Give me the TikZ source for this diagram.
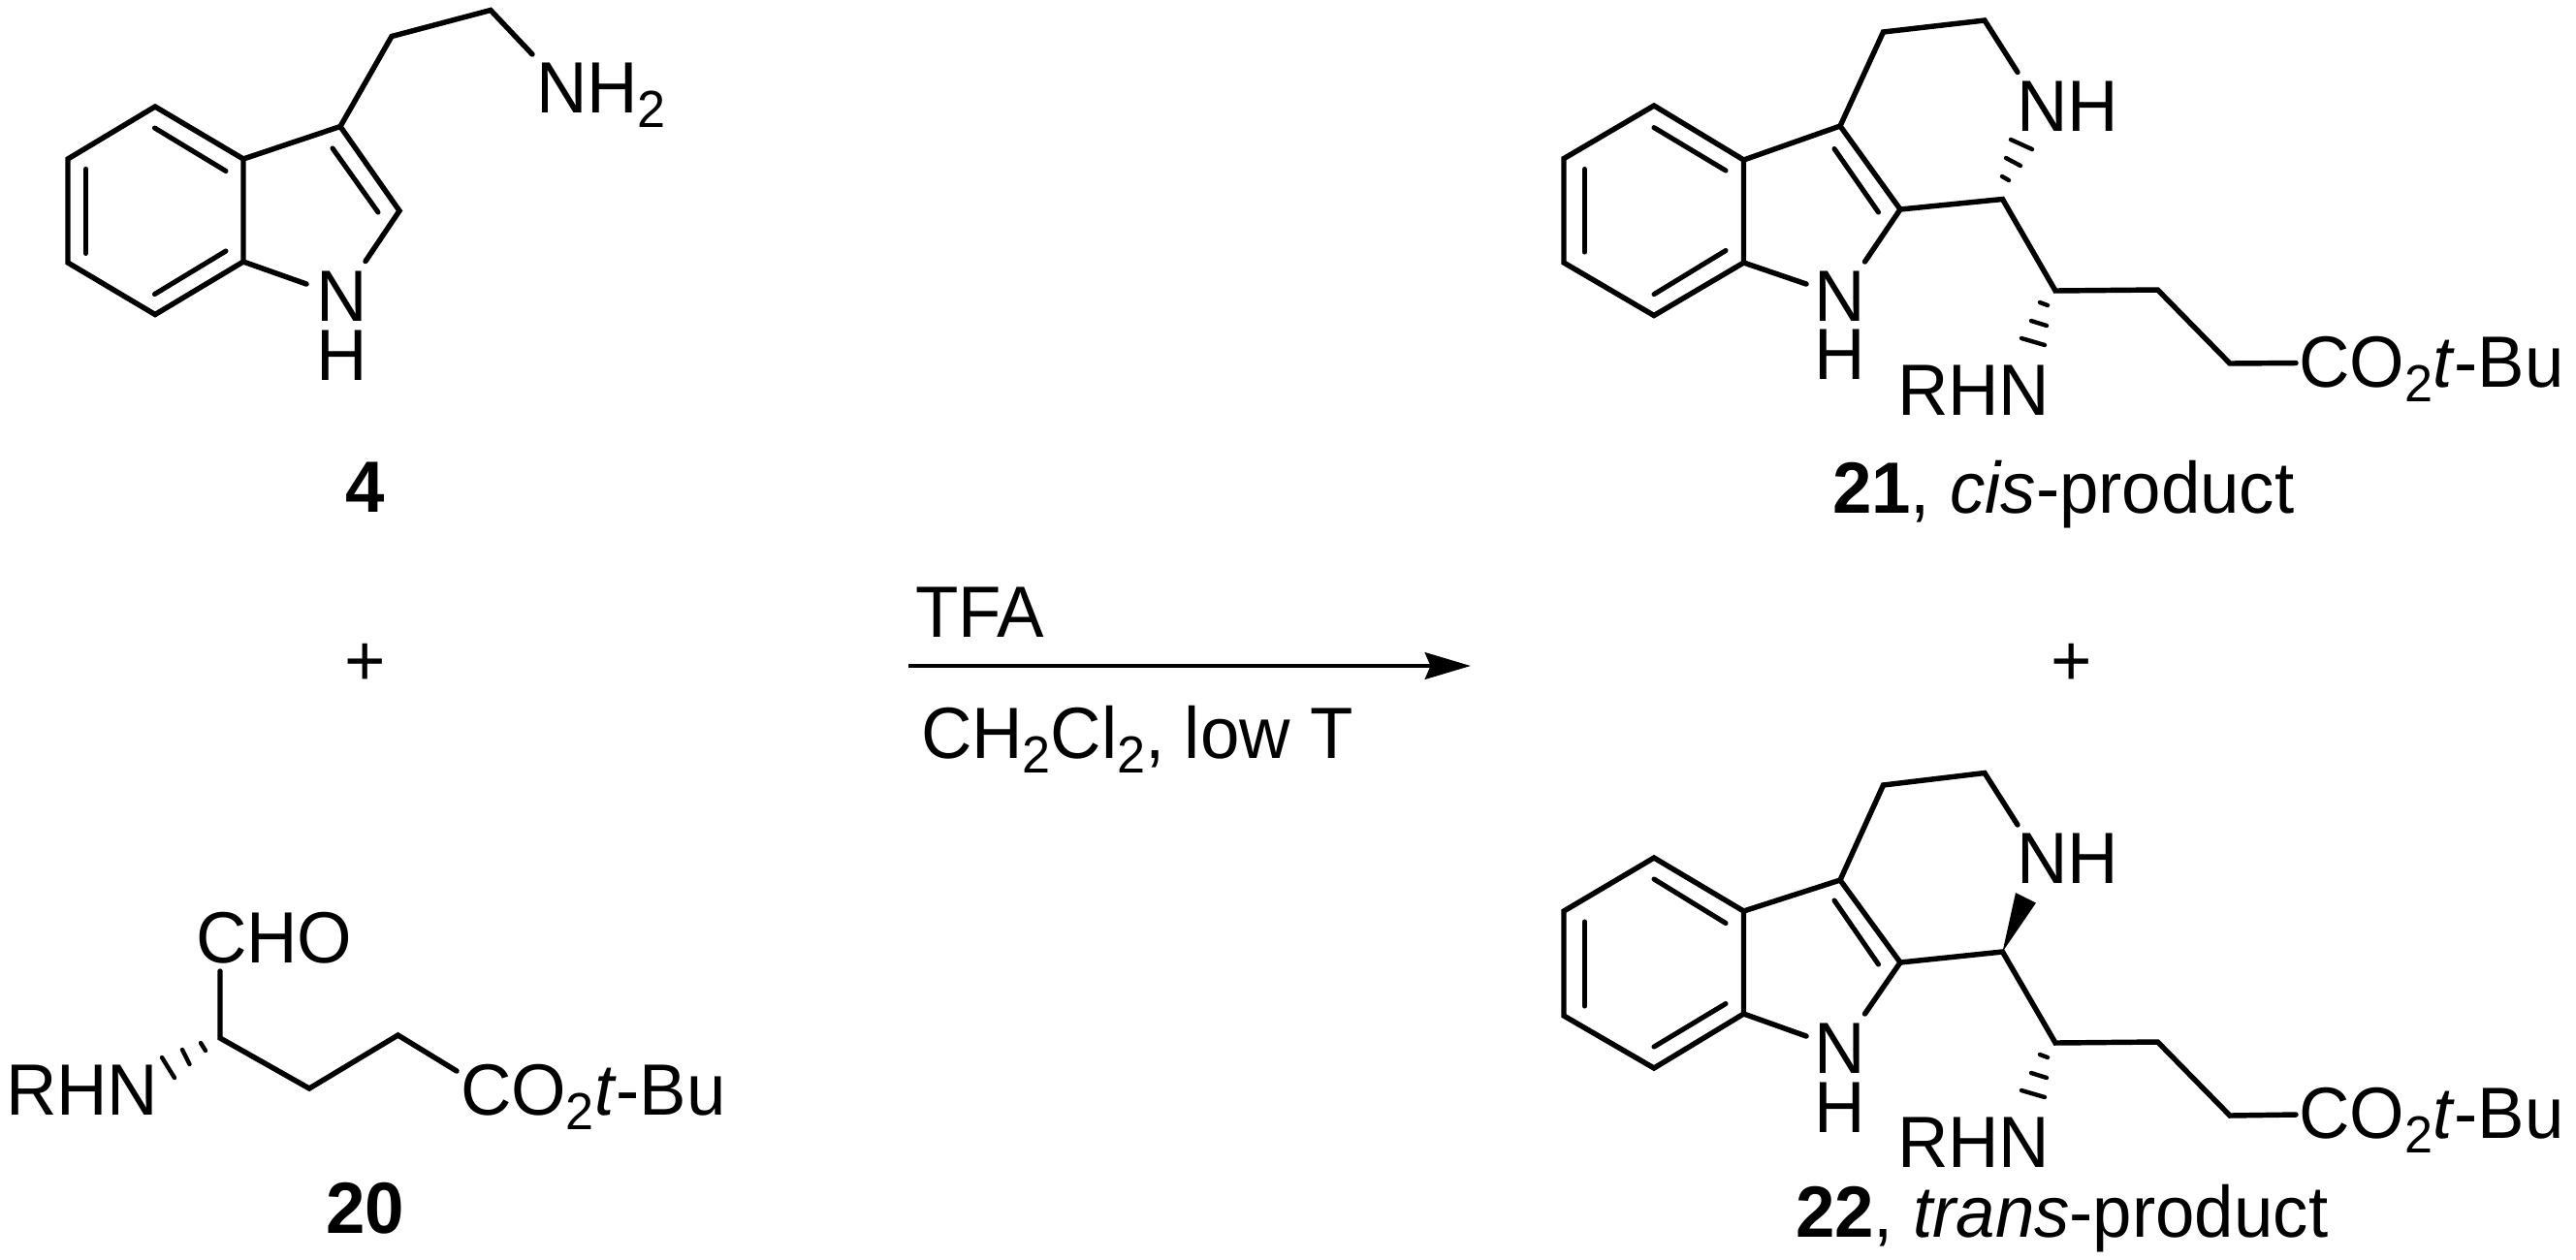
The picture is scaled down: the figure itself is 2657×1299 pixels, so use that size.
\documentclass[tikz,border=0pt]{standalone}
\usepackage{fontspec}
\setmainfont[FakeStretch=0.97]{Liberation Sans}
\usetikzlibrary{arrows.meta}
\newcommand{\subtwo}{\raisebox{-4.3pt}{\fontsize{15.3}{15.3}\selectfont 2}}
\tikzset{
  lab/.style={inner sep=0pt,outer sep=0pt,anchor=base west,font=\fontsize{21.3}{24}\selectfont},
  cen/.style={inner sep=0pt,outer sep=0pt,anchor=base,font=\fontsize{21.3}{24}\selectfont},
  bond/.style={line width=1.55pt,line cap=round,line join=miter,miter limit=4},
  inner/.style={line width=1.45pt,line cap=round},
  hash/.style={line width=1.25pt,line cap=round},
  rxn/.style={line width=1.4pt,-{Stealth[length=13.4pt,width=7.8pt,inset=1.6pt]}}
}
\begin{document}
\begin{tikzpicture}[x=0.01cm,y=-0.01cm]
\useasboundingbox (0,0) rectangle (2657,1299);
% --- compound 4
\coordinate (a1) at (160,110);
\coordinate (a2) at (70,164);
\coordinate (a3) at (70,271);
\coordinate (a4) at (160,324.5);
\coordinate (a5) at (251,270);
\coordinate (a6) at (251,164);
\coordinate (a7) at (351,130.5);
\coordinate (a8) at (412,217.5);
\coordinate (a9) at (377,269.5);
\coordinate (a10) at (316,293);
\coordinate (a11) at (404,37.5);
\coordinate (a12) at (506,10.5);
\coordinate (a13) at (549,56);
\coordinate (ai1) at (159.5,132); \coordinate (ai2) at (233,176.5);
\coordinate (ai3) at (88.5,174.4); \coordinate (ai4) at (88.5,261.4);
\coordinate (ai5) at (159.5,303.5); \coordinate (ai6) at (233,259);
\coordinate (ai7) at (343,153); \coordinate (ai8) at (390,219);
\draw[bond] (a5) -- (a4) -- (a3) -- (a2) -- (a1) -- (a6) -- cycle;
\draw[bond] (a10) -- (a5);
\draw[bond] (a6) -- (a7) -- (a8) -- (a9);
\draw[bond] (a7) -- (a11) -- (a12) -- (a13);
\draw[inner] (ai1) -- (ai2);
\draw[inner] (ai3) -- (ai4);
\draw[inner] (ai5) -- (ai6);
\draw[inner] (ai7) -- (ai8);
\node[lab] (nh2) at (553,116) {NH\subtwo};
\node[lab] (n4) at (326,331.6) {N};
\node[lab] (h4) at (326,392) {H};
\node[cen] (l4) at (377,528) {\textbf{4}};
\node[cen] (plusl) at (377,707) {+};
% --- compound 20
\coordinate (b1) at (227,1071);
\coordinate (b2) at (227,1002);
\coordinate (b3) at (319,1123);
\coordinate (b4) at (410.5,1068);
\coordinate (b5) at (471,1105);
\draw[bond] (b2) -- (b1) -- (b3) -- (b4) -- (b5);
\coordinate (bh1) at (207,1076); \coordinate (bh2) at (212,1084);
\coordinate (bh3) at (188,1083); \coordinate (bh4) at (195.5,1098);
\coordinate (bh5) at (167,1091); \coordinate (bh6) at (180,1112);
\draw[hash] (bh1) -- (bh2);
\draw[hash] (bh3) -- (bh4);
\draw[hash] (bh5) -- (bh6);
\node[lab] (cho) at (202,993) {CHO};
\node[lab] (rhn20) at (6,1150) {RHN};
\node[lab] (co20) at (475,1150) {CO\subtwo\textit{t}-Bu};
\node[cen] (l20) at (377,1272) {\textbf{20}};
% --- arrow
\coordinate (r1) at (937,687);
\coordinate (r2) at (1517,687);
\draw[rxn] (r1) -- (r2);
\node[lab] (tfa) at (944,657) {TFA};
\node[lab] (cond) at (950,782) {CH\subtwo Cl\subtwo, low T};
% --- compound 21
\coordinate (c1) at (1706,109);
\coordinate (c2) at (1613,163.6);
\coordinate (c3) at (1613,271);
\coordinate (c4) at (1706,325.5);
\coordinate (c5) at (1798.5,271);
\coordinate (c6) at (1798.5,165);
\coordinate (c7) at (1898,130);
\coordinate (c8) at (1960,216);
\coordinate (c9) at (1923.5,270);
\coordinate (c10) at (1863,293);
\coordinate (c11) at (1942.5,33);
\coordinate (c12) at (2047,21);
\coordinate (c13) at (2081,74.5);
\coordinate (c14) at (2065.5,205.5);
\coordinate (c15) at (2120,300);
\coordinate (c16) at (2225.5,299);
\coordinate (c17) at (2300,375);
\coordinate (c18) at (2368,374.5);
\coordinate (ci1) at (1706,131.6); \coordinate (ci2) at (1780,176);
\coordinate (ci3) at (1634.5,174.5); \coordinate (ci4) at (1634.5,260);
\coordinate (ci5) at (1706,303.6); \coordinate (ci6) at (1780,258.5);
\coordinate (ci7) at (1892,153.5); \coordinate (ci8) at (1937.5,219);
\draw[bond] (c5) -- (c4) -- (c3) -- (c2) -- (c1) -- (c6) -- cycle;
\draw[bond] (c10) -- (c5);
\draw[bond] (c6) -- (c7) -- (c8) -- (c9);
\draw[bond] (c7) -- (c11) -- (c12) -- (c13);
\draw[bond] (c8) -- (c14) -- (c15) -- (c16) -- (c17) -- (c18);
\draw[inner] (ci1) -- (ci2);
\draw[inner] (ci3) -- (ci4);
\draw[inner] (ci5) -- (ci6);
\draw[inner] (ci7) -- (ci8);
\coordinate (ch1) at (2074,144); \coordinate (ch2) at (2096,154);
\coordinate (ch3) at (2069,163); \coordinate (ch4) at (2084,171);
\coordinate (ch5) at (2065,182); \coordinate (ch6) at (2072,186);
\coordinate (ch7) at (2104,312); \coordinate (ch8) at (2112,315);
\coordinate (ch9) at (2095,331); \coordinate (ch10) at (2111,336);
\coordinate (ch11) at (2085,349); \coordinate (ch12) at (2109,356);
\draw[hash] (ch1) -- (ch2);
\draw[hash] (ch3) -- (ch4);
\draw[hash] (ch5) -- (ch6);
\draw[hash] (ch7) -- (ch8);
\draw[hash] (ch9) -- (ch10);
\draw[hash] (ch11) -- (ch12);
\node[lab] (nh21) at (2080,135) {NH};
\node[lab] (n21) at (1871,331.6) {N};
\node[lab] (h21) at (1871,391) {H};
\node[lab] (rhn21) at (1957,428) {RHN};
\node[lab] (co21) at (2371,399) {CO\subtwo\textit{t}-Bu};
\node[lab] (l21) at (1890,529) {\textbf{21}, \textit{cis}-product};
\node[cen] (plusr) at (2137,707) {+};
% --- compound 22
\coordinate (d1) at (1706,885);
\coordinate (d2) at (1613,940);
\coordinate (d3) at (1613,1048);
\coordinate (d4) at (1706,1102);
\coordinate (d5) at (1798.5,1046);
\coordinate (d6) at (1798.5,940);
\coordinate (d7) at (1898,908);
\coordinate (d8) at (1960,993);
\coordinate (d9) at (1923.5,1046);
\coordinate (d10) at (1863,1069);
\coordinate (d11) at (1942.5,810);
\coordinate (d12) at (2047,797.5);
\coordinate (d13) at (2081,851);
\coordinate (d14) at (2065.5,982);
\coordinate (d15) at (2120,1076);
\coordinate (d16) at (2225.5,1075);
\coordinate (d17) at (2300,1151);
\coordinate (d18) at (2368,1150);
\coordinate (dw1) at (2079,921);
\coordinate (dw2) at (2100,931.5);
\coordinate (di1) at (1706,907); \coordinate (di2) at (1780,952.5);
\coordinate (di3) at (1634.5,951); \coordinate (di4) at (1634.5,1038);
\coordinate (di5) at (1706,1080); \coordinate (di6) at (1780,1035.5);
\coordinate (di7) at (1892,929); \coordinate (di8) at (1937.5,995);
\draw[bond] (d5) -- (d4) -- (d3) -- (d2) -- (d1) -- (d6) -- cycle;
\draw[bond] (d10) -- (d5);
\draw[bond] (d6) -- (d7) -- (d8) -- (d9);
\draw[bond] (d7) -- (d11) -- (d12) -- (d13);
\draw[bond] (d8) -- (d14) -- (d15) -- (d16) -- (d17) -- (d18);
\draw[inner] (di1) -- (di2);
\draw[inner] (di3) -- (di4);
\draw[inner] (di5) -- (di6);
\draw[inner] (di7) -- (di8);
\fill (d14) -- (dw1) -- (dw2) -- cycle;
\coordinate (dh7) at (2104,1088); \coordinate (dh8) at (2112,1091);
\coordinate (dh9) at (2095,1107); \coordinate (dh10) at (2111,1112);
\coordinate (dh11) at (2085,1125); \coordinate (dh12) at (2109,1132);
\draw[hash] (dh7) -- (dh8);
\draw[hash] (dh9) -- (dh10);
\draw[hash] (dh11) -- (dh12);
\node[lab] (nh22) at (2080,911) {NH};
\node[lab] (n22) at (1871,1107.6) {N};
\node[lab] (h22) at (1871,1168) {H};
\node[lab] (rhn22) at (1957,1204) {RHN};
\node[lab] (co22) at (2371,1174) {CO\subtwo\textit{t}-Bu};
\node[lab] (l22) at (1852,1276) {\textbf{22}, \textit{trans}-product};
\end{tikzpicture}
\end{document}
